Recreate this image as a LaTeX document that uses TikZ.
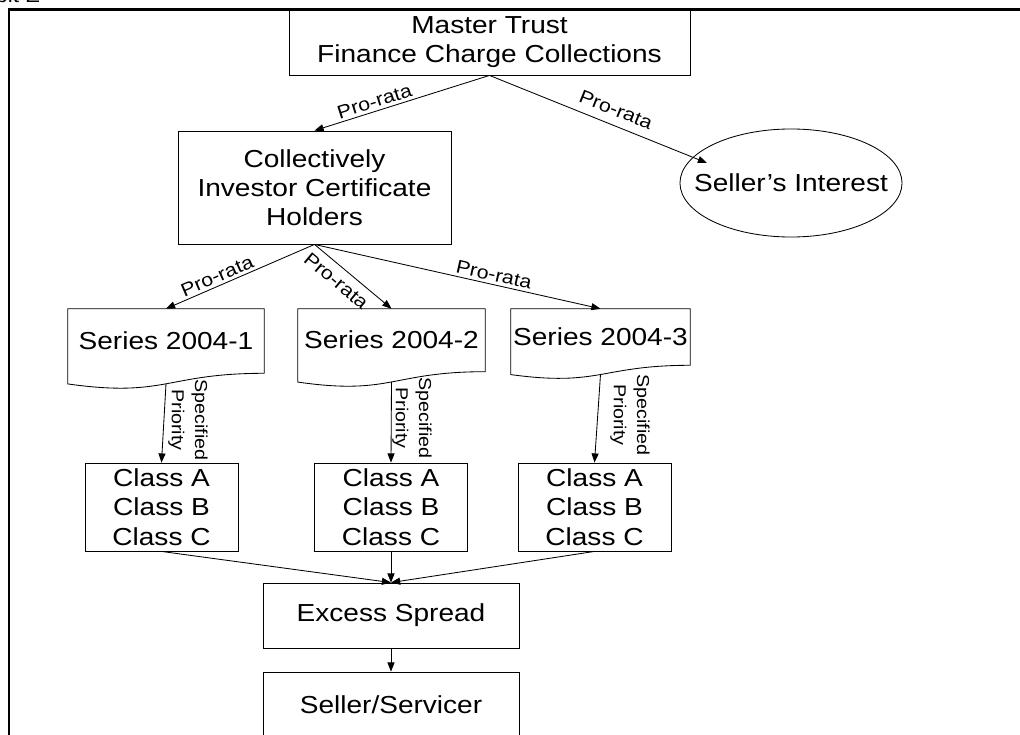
\documentclass[tikz,border=0pt]{standalone}
\usepackage{fontspec}
\setmainfont{Liberation Sans}[FakeStretch=1.14]
\usetikzlibrary{arrows.meta,calc,shapes.geometric}
% document shape with a wavy bottom, drawn round a text node
\newcommand{\docshape}[1]{%
  \draw[box] (#1.north west) -- (#1.north east) -- (#1.south east)
    .. controls (#1.south) and ($(#1.north)!1.380!(#1.south)$)
    .. ($(#1.north west)!1.1646!(#1.south west)$) -- cycle;
  \coordinate (#1b) at ($(#1.north)!1.1634!(#1.south)$);}
\begin{document}
\begin{tikzpicture}[x=0.025cm,y=-0.025cm,
  box/.style={draw=black,line width=0.6pt},
  txt/.style={inner sep=0pt,align=center,font=\fontsize{17.5}{20.8}\selectfont},
  lab/.style={inner sep=2pt,align=center,font=\fontsize{13.3}{16.5}\selectfont},
  prio/.style={inner sep=2pt,align=center,rotate=-90,font=\fontsize{12.3}{16.5}\selectfont},
  arr/.style={line width=0.6pt,-{Triangle[length=6.5pt,width=5pt]}}]
\useasboundingbox (0,0) rectangle (1020,735);
\clip (0,0) rectangle (1020,735);
\node[anchor=base east,inner sep=0pt,font=\fontsize{14}{16}\selectfont] (EX) at (40.5,2.7) {Exhibit E};
\draw[line width=1.8pt] (1030,9.5) -- (9,9.5) -- (9,745);% Frame

\node[box,txt,minimum width=10.025cm,minimum height=1.65cm] (MT) at (489.5,42) {Master Trust\\Finance Charge Collections};
\node[box,txt,minimum width=6.825cm,minimum height=2.825cm] (CIH) at (314.5,187.5) {Collectively\\Investor Certificate\\Holders};
\node[box,ellipse,inner sep=0pt,minimum width=5.55cm,minimum height=2.7cm,
  label={[txt]center:Seller’s Interest}] (SI) at (791,183) {};
\coordinate (SIin) at (707,163);

\node[txt,minimum width=4.9cm,minimum height=1.6cm] (S1) at (166,341) {Series 2004-1};
\node[txt,minimum width=4.675cm,minimum height=1.56cm] (S2) at (391.5,340.2) {Series 2004-2};
\node[txt,minimum width=4.475cm,minimum height=1.4cm] (S3) at (600.5,337) {Series 2004-3};
\docshape{S1}\docshape{S2}\docshape{S3}

\node[box,txt,minimum width=3.825cm,minimum height=2.2cm] (C1) at (161.5,507) {Class A\\Class B\\Class C};
\node[box,txt,minimum width=3.825cm,minimum height=2.2cm] (C2) at (391,507) {Class A\\Class B\\Class C};
\node[box,txt,minimum width=3.825cm,minimum height=2.2cm] (C3) at (594.5,507) {Class A\\Class B\\Class C};

\node[box,txt,minimum width=6.4cm,minimum height=1.625cm] (ES) at (391,615.5) {Excess Spread};
\node[box,txt,minimum width=6.4cm,minimum height=1.65cm] (SS) at (391,705) {Seller/Servicer};

\draw[arr] (MT.south) -- (CIH.north) node[lab,sloped,pos=.64,above] {Pro-rata};
\draw[arr] (MT.south) -- (SIin) node[lab,sloped,pos=.555,above=4pt] {Pro-rata};
\draw[arr] (CIH.south) -- (S1.north) node[lab,sloped,pos=.63,above] {Pro-rata};
\draw[arr] (CIH.south) -- (S2.north) node[lab,sloped,pos=.40,below=3pt] {Pro-rata};
\draw[arr] (CIH.south) -- (S3.north) node[lab,sloped,pos=.62,above] {Pro-rata};

\draw[arr] (S1b) -- (C1.north);
\draw[arr] (S2b) -- (C2.north);
\draw[arr] (S3b) -- (C3.north);
\node[prio] (P1) at (188,420) {Specified\\Priority};
\node[prio] (P2) at (412,418) {Specified\\Priority};
\node[prio] (P3) at (630,415) {Specified\\Priority};

\draw[arr] (C1.south) -- (ES.north);
\draw[arr] (C2.south) -- (ES.north);
\draw[arr] (C3.south) -- (ES.north);
\draw[arr] (ES.south) -- (SS.north);
\end{tikzpicture}
\end{document}
